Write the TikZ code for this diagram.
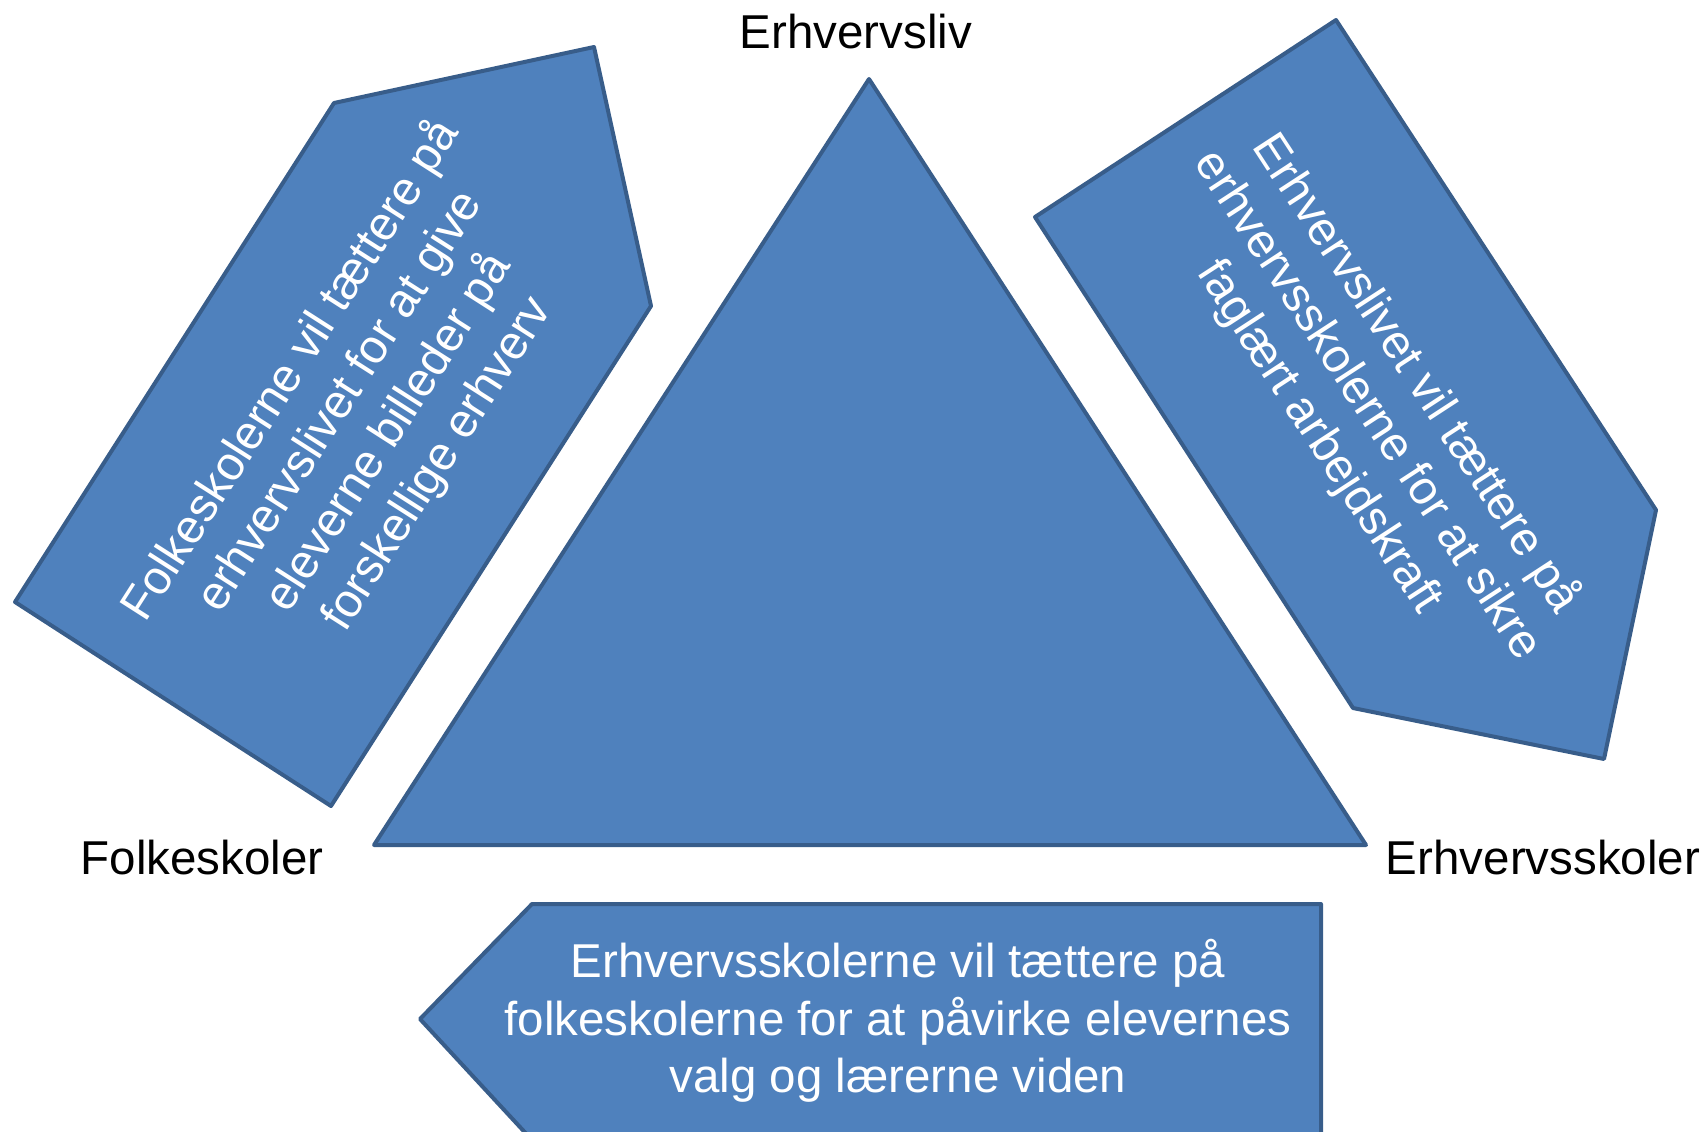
\documentclass[tikz,border=0pt]{standalone}
\usepackage{fontspec}
\setmainfont{Liberation Sans}
\definecolor{fillblue}{HTML}{4F81BD}
\definecolor{edgeblue}{HTML}{385D8A}
\begin{document}
\begin{tikzpicture}[x=0.5pt,y=-0.5pt,
  blueshape/.style={fill=fillblue,draw=edgeblue,line width=2pt,line join=round},
  intext/.style={text=white,font=\fontsize{23.75}{28.85}\selectfont,align=center,inner sep=0pt},
  outlabel/.style={text=black,font=\fontsize{23.75}{28.85}\selectfont,inner sep=0pt}]
\useasboundingbox (0,0) rectangle (1706,1131);
\begin{scope}
\clip (0,0) rectangle (1706,1131);
\draw[blueshape] (374,845) -- (869,79) -- (1366,845) -- cycle;
\draw[blueshape] (15,602) -- (334,103) -- (594,47) -- (651,306) -- (331,806) -- cycle;
\draw[blueshape] (1035,217) -- (1336,20) -- (1656,510) -- (1604,759) -- (1353,708) -- cycle;
\draw[blueshape] (532,904) -- (1321,904) -- (1321,1140) -- (532,1140) -- (420,1019) -- cycle;
\end{scope}
\node[intext,rotate=57.4] (lefttext) at (364,417) {Folkeskolerne vil tættere på\\erhvervslivet for at give\\eleverne billeder på\\forskellige erhverv};
\node[intext,rotate=-56.9] (righttext) at (1368,405) {Erhvervslivet vil tættere på\\erhvervsskolerne for at sikre\\faglært arbejdskraft};
\node[intext] (bottomtext) at (898,1021) {Erhvervsskolerne vil tættere på\\folkeskolerne for at påvirke elevernes\\valg og lærerne viden};
\node[outlabel] (top) at (856,32) {Erhvervsliv};
\node[outlabel] (left) at (202,858) {Folkeskoler};
\node[outlabel] (right) at (1543,858) {Erhvervsskoler};
\end{tikzpicture}
\end{document}
